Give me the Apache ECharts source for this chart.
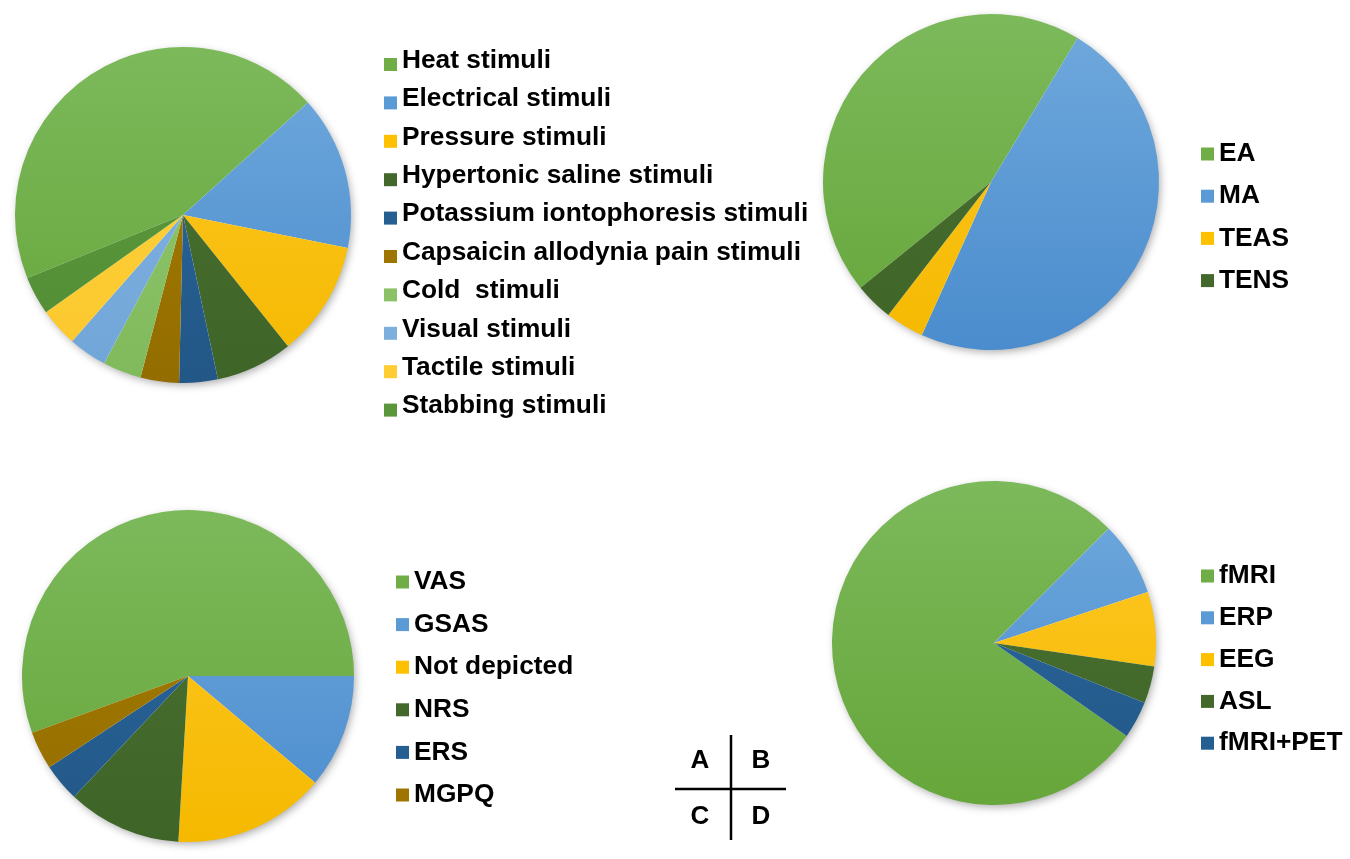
<!DOCTYPE html>
<html>
<head>
<meta charset="utf-8">
<script src="https://cdn.jsdelivr.net/npm/echarts@6/dist/echarts.min.js"></script>
<style>
html,body{margin:0;padding:0;background:#fff;}
#chart{width:1350px;height:859px;}
</style>
</head>
<body>
<div id="chart"></div>
<script>
// ---- Data (number of studies per category) ----
const stimuliNames = ['Heat stimuli','Electrical stimuli','Pressure stimuli','Hypertonic saline stimuli','Potassium iontophoresis stimuli','Capsaicin allodynia pain stimuli','Cold  stimuli','Visual stimuli','Tactile stimuli','Stabbing stimuli'];
const stimuliValues = [12, 4, 3, 2, 1, 1, 1, 1, 1, 1];

const interventionNames = ['EA','MA','TEAS','TENS'];
const interventionValues = [12, 13, 1, 1];

const scaleNames = ['VAS','GSAS','Not depicted','NRS','ERS','MGPQ'];
const scaleValues = [15, 3, 4, 3, 1, 1];

const imagingNames = ['fMRI','ERP','EEG','ASL','fMRI+PET'];
const imagingValues = [21, 2, 2, 1, 1];

const panelLabels = ['A','B','C','D'];

// ---- Colours (top, bottom of gradient; base for legend) ----
const C = {
  green:  ['#7cb95b', '#66a63a', '#70ad47'],
  blue:   ['#70a9dd', '#4a8ccd', '#5b9bd5'],
  gold:   ['#ffc928', '#f5b900', '#ffc000'],
  dgreen: ['#4b7433', '#3e6427', '#43682b'],
  dblue:  ['#2c69a2', '#225786', '#255e91'],
  brown:  ['#a67d00', '#936d00', '#9e7500'],
  lgreen: ['#95c874', '#80ba5b', '#8cc168'],
  lblue:  ['#87b7e3', '#70a5d8', '#7cafdd'],
  lgold:  ['#ffd341', '#fbc82c', '#ffcd33'],
  mgreen: ['#5f9c3f', '#518c34', '#5a963a']
};
const stimuliColors = ['green','blue','gold','dgreen','dblue','brown','lgreen','lblue','lgold','mgreen'];
const interventionColors = ['green','blue','gold','dgreen'];
const scaleColors = ['green','blue','gold','dgreen','dblue','brown'];
const imagingColors = ['green','blue','gold','dgreen','dblue'];

const FONT = 'Liberation Sans, Arial, Helvetica, sans-serif';
const FS = 26.3;

const chart = echarts.init(document.getElementById('chart'), null, {renderer: 'canvas'});

function grad(key, cy, r) {
  return new echarts.graphic.LinearGradient(0, cy - r, 0, cy + r, [
    {offset: 0, color: C[key][0]},
    {offset: 1, color: C[key][1]}
  ], true);
}

function pieSeries(names, values, colors, cx, cy, r, startAngle) {
  return {
    type: 'pie',
    center: [cx, cy],
    radius: [0, r],
    startAngle: startAngle,
    clockwise: true,
    avoidLabelOverlap: false,
    label: {show: false},
    labelLine: {show: false},
    emphasis: {disabled: true, scale: false},
    silent: true,
    z: 3,
    itemStyle: {borderWidth: 0},
    data: names.map((n, i) => ({
      name: n,
      value: values[i],
      itemStyle: {color: grad(colors[i], cy, r)}
    }))
  };
}

function shadowSeries(cx, cy, r) {
  return {
    type: 'pie',
    center: [cx, cy],
    radius: [0, r - 1],
    label: {show: false},
    labelLine: {show: false},
    emphasis: {disabled: true, scale: false},
    silent: true,
    z: 1,
    itemStyle: {
      color: '#ffffff',
      shadowBlur: 9,
      shadowColor: 'rgba(0,0,0,0.35)',
      shadowOffsetX: 2,
      shadowOffsetY: 3
    },
    data: [{name: '__bg' + cx + '_' + cy, value: 1}]
  };
}

function legendOf(names, colors, left, top, gap, icon, ih) {
  return {
    orient: 'vertical',
    left: left,
    top: top,
    padding: 0,
    itemGap: gap,
    itemWidth: 13,
    itemHeight: ih,
    icon: icon,
    selectedMode: false,
    textStyle: {fontSize: FS, fontWeight: 'bold', color: '#000', fontFamily: FONT},
    data: names.map((n, i) => ({
      name: n,
      icon: icon,
      itemStyle: {color: C[colors[i]][2], borderWidth: 0, shadowBlur: 0}
    }))
  };
}

const pA = [183, 215, 168], pB = [991, 182, 168], pC = [188, 676, 166], pD = [994, 643, 162];

const option = {
  animation: false,
  backgroundColor: '#ffffff',
  legend: [
    legendOf(stimuliNames, stimuliColors, 384, 47.5, 12.4, 'path://M0,0M0,8h13v13h-13z', 21),
    legendOf(interventionNames, interventionColors, 1201, 141, 16.2, 'rect', 13),
    legendOf(scaleNames, scaleColors, 396, 569, 16.6, 'rect', 13),
    legendOf(imagingNames, imagingColors, 1201, 563, 15.8, 'rect', 13)
  ],
  series: [
    shadowSeries(pA[0], pA[1], pA[2]),
    shadowSeries(pB[0], pB[1], pB[2]),
    shadowSeries(pC[0], pC[1], pC[2]),
    shadowSeries(pD[0], pD[1], pD[2]),
    pieSeries(stimuliNames, stimuliValues, stimuliColors, pA[0], pA[1], pA[2], 202),
    pieSeries(interventionNames, interventionValues, interventionColors, pB[0], pB[1], pB[2], 219),
    pieSeries(scaleNames, scaleValues, scaleColors, pC[0], pC[1], pC[2], 200),
    pieSeries(imagingNames, imagingValues, imagingColors, pD[0], pD[1], pD[2], 325)
  ],
  graphic: [
    {type: 'line', shape: {x1: 731, y1: 735, x2: 731, y2: 840}, style: {stroke: '#000', lineWidth: 2.5}},
    {type: 'line', shape: {x1: 675, y1: 789, x2: 786, y2: 789}, style: {stroke: '#000', lineWidth: 2.5}},
    {type: 'text', x: 700, y: 761, style: {text: panelLabels[0], font: 'bold 26px ' + FONT, fill: '#000', align: 'center', verticalAlign: 'middle'}},
    {type: 'text', x: 761, y: 761, style: {text: panelLabels[1], font: 'bold 26px ' + FONT, fill: '#000', align: 'center', verticalAlign: 'middle'}},
    {type: 'text', x: 700, y: 817, style: {text: panelLabels[2], font: 'bold 26px ' + FONT, fill: '#000', align: 'center', verticalAlign: 'middle'}},
    {type: 'text', x: 761, y: 817, style: {text: panelLabels[3], font: 'bold 26px ' + FONT, fill: '#000', align: 'center', verticalAlign: 'middle'}}
  ]
};
chart.setOption(option);
</script>
</body>
</html>
